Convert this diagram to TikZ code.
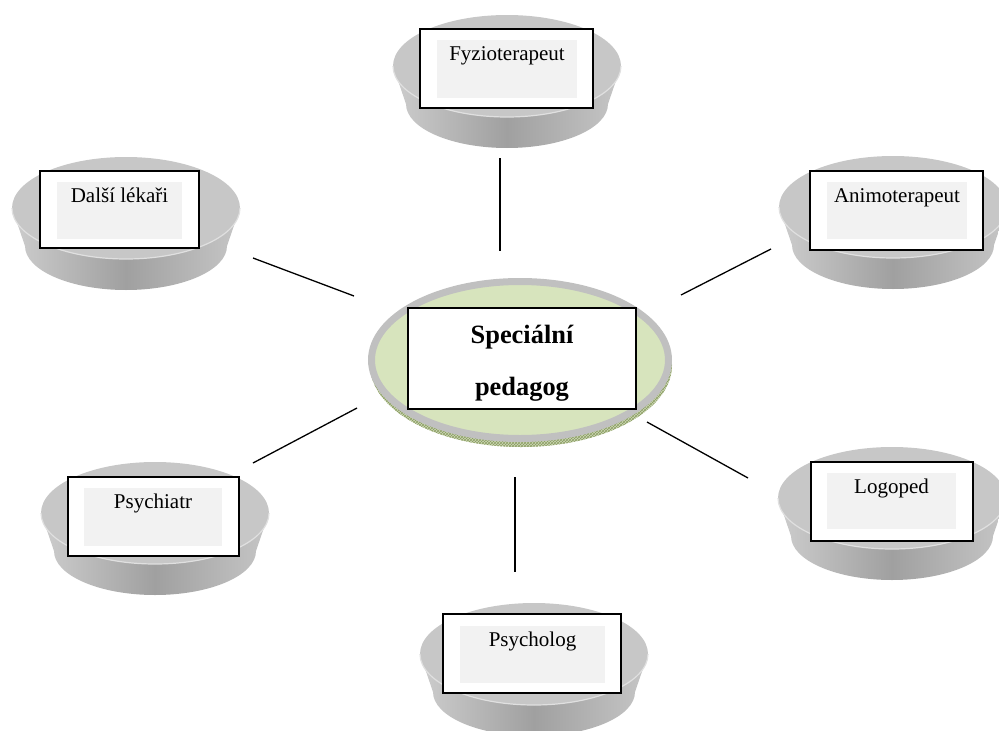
\documentclass[tikz,border=0pt]{standalone}
\usepackage{fontspec}
\setmainfont{Liberation Serif}
\usetikzlibrary{patterns}

\definecolor{dishtop}{RGB}{199,199,199}
\definecolor{dishrim}{RGB}{224,224,224}
\definecolor{sideL}{RGB}{205,205,205}
\definecolor{sideM}{RGB}{160,160,160}
\definecolor{sideR}{RGB}{198,198,198}
\definecolor{labelfill}{RGB}{242,242,242}
\definecolor{hubfill}{RGB}{215,228,189}
\definecolor{hubring}{RGB}{192,192,192}
\definecolor{hubbevel}{RGB}{205,216,182}
\definecolor{hubedge}{RGB}{140,158,100}

\tikzset{
  % a shallow grey dish: tapered side band under a flat top ellipse
  dish/.pic={
    \shade[left color=sideL, right color=sideR, middle color=sideM]
      (-114,0) -- (-101,38)
      arc[start angle=180, end angle=0, x radius=101, y radius=44]
      -- (114,0) -- cycle;
    \fill[dishtop] (0,0) ellipse[x radius=114, y radius=51];
    \draw[dishrim, line width=1.2pt]
      (-114,0) arc[start angle=180, end angle=0, x radius=114, y radius=51];
  },
  framebox/.style={draw=black, fill=white, line width=1.8pt, inner sep=0pt},
  labelpanel/.style={fill=labelfill, inner sep=0pt},
  labeltext/.style={anchor=base, inner sep=0pt, font=\fontsize{21}{25}\selectfont},
  hubtext/.style={anchor=base, inner sep=0pt, font=\bfseries\fontsize{26.4}{30}\selectfont},
  link/.style={draw=black, line width=1.3pt},
}

\begin{document}
\begin{tikzpicture}[x=1pt, y=-1pt]
\useasboundingbox (0,0) rectangle (999,731);
\begin{scope}
\clip (0,0) rectangle (999,731);

% dishes
\pic at (507,66)  {dish};
\pic at (126,208) {dish};
\pic at (893,207) {dish};
\pic at (892,498) {dish};
\pic at (155,513) {dish};
\pic at (534,654) {dish};

% centre disc with its bevelled lower edge
\fill[hubbevel] (521,365) ellipse[x radius=151, y radius=82];
\fill[pattern=crosshatch, pattern color=hubedge] (521,365) ellipse[x radius=151, y radius=82];
\filldraw[fill=hubfill, draw=hubring, line width=7pt] (520,360) ellipse[x radius=148.5, y radius=78.5];
\end{scope}

% centre label
\node[framebox, minimum width=228, minimum height=101] (hub) at (522,358.5) {};
\node[hubtext] (hubA) at (522,343) {Speciální};
\node[hubtext] (hubB) at (522,395) {pedagog};

% Fyzioterapeut
\node[framebox, minimum width=173, minimum height=79] (fyz) at (506.5,68.5) {};
\node[labelpanel, minimum width=140, minimum height=58] (fyzP) at (507,69) {};
\node[labeltext] (fyzT) at (507,60) {Fyzioterapeut};

% Další lékaři
\node[framebox, minimum width=159, minimum height=77] (lek) at (119.5,209.5) {};
\node[labelpanel, minimum width=125, minimum height=57] (lekP) at (119.5,210.5) {};
\node[labeltext] (lekT) at (119.5,202) {Další lékaři};

% Animoterapeut
\node[framebox, minimum width=173, minimum height=79] (ani) at (896.5,210.5) {};
\node[labelpanel, minimum width=140, minimum height=57] (aniP) at (897,210.5) {};
\node[labeltext] (aniT) at (897,202) {Animoterapeut};

% Logoped
\node[framebox, minimum width=162, minimum height=79] (log) at (892,501.5) {};
\node[labelpanel, minimum width=129, minimum height=56] (logP) at (891.5,501) {};
\node[labeltext] (logT) at (891.5,493) {Logoped};

% Psychiatr
\node[framebox, minimum width=171, minimum height=79] (pst) at (153.5,516.5) {};
\node[labelpanel, minimum width=138, minimum height=58] (pstP) at (153,517) {};
\node[labeltext] (pstT) at (153,508) {Psychiatr};

% Psycholog
\node[framebox, minimum width=178, minimum height=79] (psl) at (532,653.5) {};
\node[labelpanel, minimum width=145, minimum height=57] (pslP) at (532.5,654.5) {};
\node[labeltext] (pslT) at (532.5,646) {Psycholog};

% connector end points
\coordinate (cT1) at (500,158);  \coordinate (cT2) at (500,251);
\coordinate (cUL1) at (253,258); \coordinate (cUL2) at (354,296);
\coordinate (cUR1) at (681,295); \coordinate (cUR2) at (771,249);
\coordinate (cLL1) at (357,408); \coordinate (cLL2) at (253,463);
\coordinate (cLR1) at (647,422); \coordinate (cLR2) at (748,478);
\coordinate (cB1) at (515,477);  \coordinate (cB2) at (515,572);

\draw[link] (cT1) -- (cT2);
\draw[link] (cUL1) -- (cUL2);
\draw[link] (cUR1) -- (cUR2);
\draw[link] (cLL1) -- (cLL2);
\draw[link] (cLR1) -- (cLR2);
\draw[link] (cB1) -- (cB2);
\end{tikzpicture}
\end{document}
